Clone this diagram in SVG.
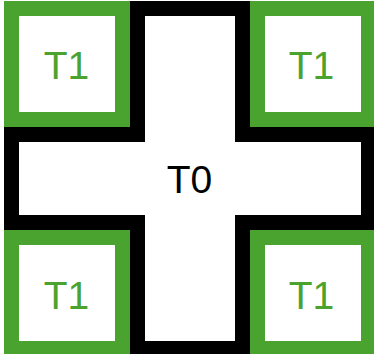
<svg xmlns="http://www.w3.org/2000/svg" width="374" height="354" viewBox="0 0 374 354">
<style>
.t1 rect{fill:#fff;stroke:#4aa22f;stroke-width:15}
.t1 text{fill:#4aa22f}
text{font-family:"Liberation Sans",Arial,sans-serif;font-size:39px;text-anchor:middle}
</style>
<rect width="374" height="354" fill="#fff"/>
<g id="T0">
<polygon points="137.5,8.5 242.5,8.5 242.5,134.5 368.5,134.5 368.5,222.5 242.5,222.5 242.5,348.5 137.5,348.5 137.5,222.5 11.5,222.5 11.5,134.5 137.5,134.5" fill="#fff" stroke="#000" stroke-width="15"/>
<text x="189.5" y="192.5" fill="#000">T0</text>
</g>
<g id="T1_tl" class="t1"><rect x="11.5" y="8.5" width="111" height="111"/><text x="66.5" y="79">T1</text></g>
<g id="T1_tr" class="t1"><rect x="257.5" y="8.5" width="111" height="111"/><text x="311.5" y="79">T1</text></g>
<g id="T1_bl" class="t1"><rect x="11.5" y="237.5" width="111" height="111"/><text x="66.5" y="308.5">T1</text></g>
<g id="T1_br" class="t1"><rect x="257.5" y="237.5" width="111" height="111"/><text x="311.5" y="308.5">T1</text></g>
<g id="connectors"/>
</svg>
